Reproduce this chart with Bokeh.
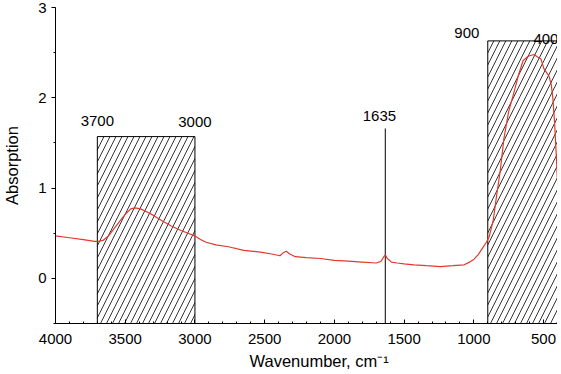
from bokeh.plotting import figure
from bokeh.models import SingleIntervalTicker, Range1d, Label, Title
from bokeh.embed import file_html
from bokeh.resources import INLINE

# Spectrum
wavenumber = [4000, 3900, 3800, 3720, 3690, 3660, 3620, 3580, 3540, 3500, 3460, 3430,
              3390, 3350, 3300, 3240, 3170, 3100, 3050, 3000, 2960, 2920, 2850, 2760,
              2650, 2530, 2450, 2390, 2370, 2345, 2320, 2280, 2200, 2100, 2000, 1900,
              1800, 1700, 1665, 1645, 1635, 1620, 1590, 1550, 1500, 1430, 1340, 1240,
              1150, 1070, 1030, 1000, 970, 940, 910, 890, 860, 840, 810, 784, 750, 712,
              680, 647, 610, 569, 540, 519, 497, 461, 445, 433, 420, 411, 400]
absorption = [0.47, 0.45, 0.43, 0.41, 0.41, 0.42, 0.47, 0.55, 0.63, 0.71, 0.77, 0.78,
              0.77, 0.74, 0.70, 0.64, 0.58, 0.53, 0.50, 0.47, 0.43, 0.40, 0.37, 0.35,
              0.31, 0.29, 0.27, 0.25, 0.28, 0.30, 0.27, 0.24, 0.23, 0.22, 0.20, 0.19,
              0.18, 0.17, 0.19, 0.24, 0.26, 0.22, 0.18, 0.17, 0.16, 0.15, 0.14, 0.13,
              0.14, 0.15, 0.18, 0.21, 0.26, 0.33, 0.40, 0.46, 0.65, 0.88, 1.20, 1.55,
              1.85, 2.06, 2.25, 2.41, 2.46, 2.48, 2.45, 2.43, 2.32, 2.24, 2.15, 1.99,
              1.70, 1.43, 1.07]

# Hatched regions
region_left = [3700, 900]
region_right = [3000, 400]
region_top = [1.57, 2.63]
region_labels_left = ["3700", "900"]
region_labels_right = ["3000", "400"]

# Marked band
band_pos = 1635
band_top = 1.66
band_label = "1635"

x_title = "Wavenumber, cm\u207b\u00b9"
y_title = "Absorption"

x_start, x_end = 4000, 400
y_start, y_end = -0.5, 3

FONT = "Liberation Sans"

p = figure(frame_width=502, frame_height=316, min_border_left=51, min_border_right=0,
           min_border_top=7, min_border_bottom=4,
           x_range=Range1d(x_start, x_end), y_range=Range1d(y_start, y_end),
           output_backend="svg", toolbar_location=None, tools="")

p.outline_line_color = None
p.xgrid.visible = False
p.ygrid.visible = False
p.background_fill_color = "white"
p.border_fill_color = "white"

# regions
p.quad(left=region_left, right=region_right, bottom=[y_start] * len(region_left), top=region_top,
       fill_alpha=0, line_color="black", line_width=1,
       hatch_pattern="/", hatch_color="black", hatch_scale=12, hatch_weight=0.8)

# band marker
p.segment(x0=[band_pos], y0=[y_start], x1=[band_pos], y1=[band_top], line_color="black", line_width=1)

# spectrum
p.line(wavenumber, absorption, line_color="#e3382b", line_width=1.2)

# labels
lab_kw = dict(text_font=FONT, text_font_size="15px", text_color="black",
              text_align="center", text_baseline="middle")
p.add_layout(Label(x=region_left[0], y=1.74, text=region_labels_left[0], **lab_kw))
p.add_layout(Label(x=region_right[0], y=1.73, text=region_labels_right[0], **lab_kw))
p.add_layout(Label(x=1677, y=1.80, text=band_label, **lab_kw))
p.add_layout(Label(x=1050, y=2.72, text=region_labels_left[1], **lab_kw))
p.add_layout(Label(x=483, y=2.65, text=region_labels_right[1], **lab_kw))

# x-axis title, slightly right of centre as in the original
p.add_layout(Title(text=x_title, align="left", offset=194, standoff=7,
                   text_font=FONT, text_font_size="16.5px", text_font_style="normal",
                   text_color="black"), "below")

# axes
xa = p.xaxis[0]
xa.ticker = SingleIntervalTicker(interval=500, num_minor_ticks=5)
xa.major_tick_in = 4
xa.major_tick_out = 0
xa.minor_tick_in = 2
xa.minor_tick_out = 0
xa.major_label_standoff = 10

ya = p.yaxis[0]
ya.ticker = SingleIntervalTicker(interval=1, num_minor_ticks=2)
ya.axis_label = y_title
ya.major_tick_in = 0
ya.major_tick_out = 4
ya.minor_tick_in = 0
ya.minor_tick_out = 2
ya.major_label_standoff = 5
ya.axis_label_standoff = 14

for ax in (xa, ya):
    ax.axis_line_color = "black"
    ax.major_tick_line_color = "black"
    ax.minor_tick_line_color = "black"
    ax.major_label_text_font = FONT
    ax.major_label_text_font_size = "15px"
    ax.major_label_text_color = "black"
    ax.axis_label_text_font = FONT
    ax.axis_label_text_font_size = "16.5px"
    ax.axis_label_text_font_style = "normal"
    ax.axis_label_text_color = "black"

open("out.html", "w").write(file_html(p, INLINE))
